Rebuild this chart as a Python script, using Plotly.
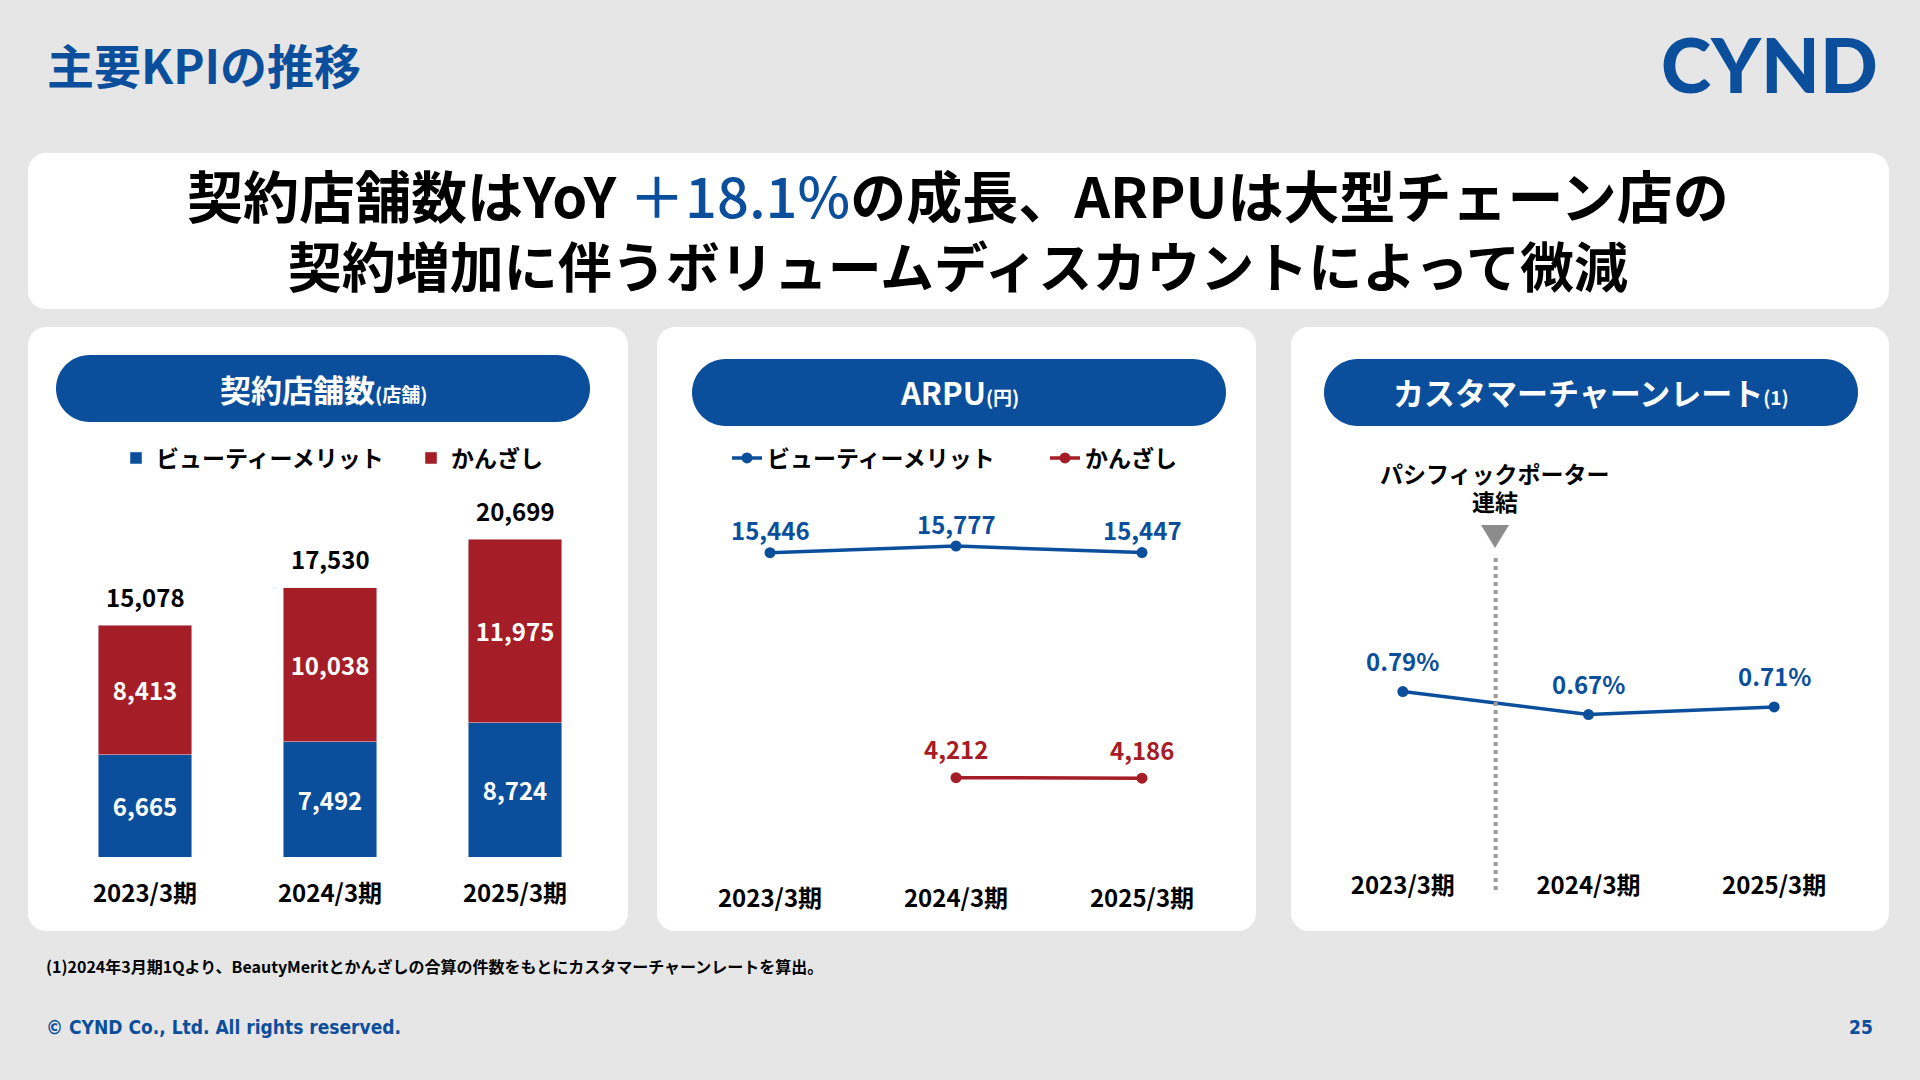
import plotly.graph_objects as go

# ---------------- data ----------------
periods = ["2023/3期", "2024/3期", "2025/3期"]
stores_bm = [6665, 7492, 8724]        # ビューティーメリット 契約店舗数
stores_kz = [8413, 10038, 11975]      # かんざし 契約店舗数
arpu_bm = [15446, 15777, 15447]       # ビューティーメリット ARPU (円)
arpu_kz = [None, 4212, 4186]          # かんざし ARPU (円)
churn = [0.79, 0.67, 0.71]            # カスタマーチャーンレート (%)
series_names = ["ビューティーメリット", "かんざし"]

W, H = 1920, 1080
BLUE = "#0b4f9c"
RED = "#a51d26"
BG = "#e6e6e6"
FONT = "Noto Sans CJK JP"


def px(x):
    return x / W


def py(y):
    return 1 - y / H


def rrect(x0, y0, x1, y1, r):
    k = 0.5523 * r
    pts = [
        ("M", [(x0 + r, y0)]),
        ("L", [(x1 - r, y0)]),
        ("C", [(x1 - r + k, y0), (x1, y0 + r - k), (x1, y0 + r)]),
        ("L", [(x1, y1 - r)]),
        ("C", [(x1, y1 - r + k), (x1 - r + k, y1), (x1 - r, y1)]),
        ("L", [(x0 + r, y1)]),
        ("C", [(x0 + r - k, y1), (x0, y1 - r + k), (x0, y1 - r)]),
        ("L", [(x0, y0 + r)]),
        ("C", [(x0, y0 + r - k), (x0 + r - k, y0), (x0 + r, y0)]),
    ]
    s = ""
    for cmd, ps in pts:
        s += cmd + " ".join(f"{px(a):.5f},{py(b):.5f}" for a, b in ps)
    return s + "Z"


fig = go.Figure()

# ---------------- stacked bars ----------------
for vals, name, col in [(stores_bm, series_names[0], BLUE), (stores_kz, series_names[1], RED)]:
    fig.add_trace(go.Bar(
        x=periods, y=vals, name=name, marker_color=col,
        texttemplate="%{y:,}", textposition="inside", insidetextanchor="middle",
        textangle=0, constraintext="none",
        textfont=dict(color="white", size=24, family=FONT, weight="bold"),
        xaxis="x", yaxis="y", legend="legend", hoverinfo="skip"))

# ---------------- ARPU lines ----------------
for vals, name, col in [(arpu_bm, series_names[0], BLUE), (arpu_kz, series_names[1], RED)]:
    fig.add_trace(go.Scatter(
        x=periods, y=vals, name=name, mode="lines+markers",
        line=dict(color=col, width=3.5), marker=dict(size=11, color=col),
        xaxis="x2", yaxis="y2", legend="legend2", hoverinfo="skip"))

# ---------------- churn line ----------------
fig.add_trace(go.Scatter(
    x=periods, y=churn, mode="lines+markers", showlegend=False,
    line=dict(color=BLUE, width=3.5), marker=dict(size=11, color=BLUE),
    xaxis="x3", yaxis="y3", hoverinfo="skip"))

# ---------------- shapes (cards) ----------------
shapes = []
shapes.append(dict(type="path", xref="paper", yref="paper", layer="below",
                   path=rrect(28, 153, 1889, 309, 18), fillcolor="white", line=dict(width=0)))
for (x0, x1) in [(28, 628), (657, 1256), (1291, 1889)]:
    shapes.append(dict(type="path", xref="paper", yref="paper", layer="below",
                       path=rrect(x0, 327, x1, 931, 18), fillcolor="white", line=dict(width=0)))
for (x0, y0, x1, y1) in [(56, 355, 590, 422), (692, 359, 1226, 426), (1324, 359, 1858, 426)]:
    shapes.append(dict(type="path", xref="paper", yref="paper", layer="below",
                       path=rrect(x0, y0, x1, y1, (y1 - y0) / 2), fillcolor=BLUE, line=dict(width=0)))
# dotted consolidation line + triangle
shapes.append(dict(type="line", xref="x3", yref="paper", x0=0.5, x1=0.5,
                   y0=py(558), y1=py(894), line=dict(color="#9a9a9a", width=4, dash="dot")))
tri = f"M{px(1481):.5f},{py(525):.5f} L{px(1509):.5f},{py(525):.5f} L{px(1495):.5f},{py(548):.5f} Z"
shapes.append(dict(type="path", xref="paper", yref="paper", path=tri,
                   fillcolor="#8c8c8c", line=dict(width=0)))

# ---------------- annotations ----------------
ann = []


def txt(x, y, text, size, color="black", weight="bold", xanchor="center", family=FONT):
    ann.append(dict(x=px(x), y=py(y), xref="paper", yref="paper", text=text,
                    showarrow=False, xanchor=xanchor, yanchor="middle",
                    font=dict(size=size, color=color, family=family, weight=weight)))


txt(45, 63, "主要KPIの推移", 47, BLUE, xanchor="left")
txt(1880, 64, "CYND", 76, BLUE, weight=900, xanchor="right", family="Lato")
txt(958, 228,
    "<span style='font-size:56px'>契約店舗数はYoY <span style='color:#0b4f9c;font-weight:500'>＋18.1%</span>"
    "の成長、ARPUは大型チェーン店の</span><br>"
    "契約増加に伴うボリュームディスカウントによって微減", 54)
txt(323, 388, "契約店舗数<span style='font-size:19px'>(店舗)</span>", 31, "white")
txt(959, 392, "ARPU<span style='font-size:19px'>(円)</span>", 31, "white")
txt(1591, 392, "カスタマーチャーンレート<span style='font-size:19px'>(1)</span>", 31, "white")
txt(1495, 473, "パシフィックポーター", 23)
txt(1495, 501, "連結", 23)
txt(44, 966, "(1)2024年3月期1Qより、BeautyMeritとかんざしの合算の件数をもとにカスタマーチャーンレートを算出。",
    16, xanchor="left")
txt(44, 1027, "© CYND Co., Ltd. All rights reserved.", 19, BLUE, xanchor="left",
    family="Liberation Sans Narrow, DejaVu Sans Condensed, Roboto")
txt(1875, 1027, "25", 19, BLUE, xanchor="right",
    family="Liberation Sans Narrow, DejaVu Sans Condensed, Roboto")

# totals above stacked bars
for p, a, b in zip(periods, stores_bm, stores_kz):
    ann.append(dict(x=p, y=a + b, xref="x", yref="y", text=f"{a + b:,}", showarrow=False,
                    yanchor="middle", yshift=29,
                    font=dict(size=24, color="black", family=FONT, weight="bold")))
# ARPU labels
for p, v in zip(periods, arpu_bm):
    ann.append(dict(x=p, y=v, xref="x2", yref="y2", text=f"{v:,}", showarrow=False,
                    yanchor="middle", yshift=23,
                    font=dict(size=24, color=BLUE, family=FONT, weight="bold")))
for p, v in zip(periods, arpu_kz):
    if v is None:
        continue
    ann.append(dict(x=p, y=v, xref="x2", yref="y2", text=f"{v:,}", showarrow=False,
                    yanchor="middle", yshift=29,
                    font=dict(size=24, color=RED, family=FONT, weight="bold")))
# churn labels
for p, v in zip(periods, churn):
    ann.append(dict(x=p, y=v, xref="x3", yref="y3", text=f"{v:.2f}%", showarrow=False,
                    yanchor="middle", yshift=31,
                    font=dict(size=24, color=BLUE, family=FONT, weight="bold")))

# ---------------- axes ----------------
tickfont = dict(size=24, color="black", family=FONT, weight="bold")


def xax(x0, x1, standoff):
    return dict(domain=[px(x0), px(x1)], range=[-0.5, 2.5], type="category",
                showgrid=False, zeroline=False, showline=False, ticks="",
                tickfont=tickfont, ticklabelstandoff=standoff, fixedrange=True)


def yax(ybot, ytop, rng):
    return dict(domain=[py(ybot), py(ytop)], range=rng, showgrid=False, zeroline=False,
                showline=False, showticklabels=False, ticks="", fixedrange=True)


legend_common = dict(orientation="h", xanchor="left", yanchor="middle",
                     bgcolor="rgba(0,0,0,0)", traceorder="normal",
                     font=dict(size=23, color="black", family=FONT, weight="bold"))

fig.update_layout(
    width=W, height=H, margin=dict(l=0, r=0, t=0, b=0),
    paper_bgcolor=BG, plot_bgcolor="rgba(0,0,0,0)",
    font=dict(family=FONT),
    barmode="stack", bargap=0.497,
    xaxis=xax(52.5, 607.5, 20), yaxis=yax(857, 480, [0, 24540]),
    xaxis2=dict(xax(677, 1235, 20), anchor="y2"), yaxis2=dict(yax(862, 480, [0, 19073]), anchor="x2"),
    xaxis3=dict(xax(1310, 1867, 26), anchor="y3"), yaxis3=dict(yax(843, 480, [0, 1.894]), anchor="x3"),
    legend=dict(legend_common, x=px(116), y=py(458), entrywidth=250),
    legend2=dict(legend_common, x=px(727), y=py(458), entrywidth=273),
    shapes=shapes, annotations=ann, showlegend=True,
)

fig.write_html("out.html", config={"displayModeBar": False},
               post_script="document.body.style.margin='0';")
